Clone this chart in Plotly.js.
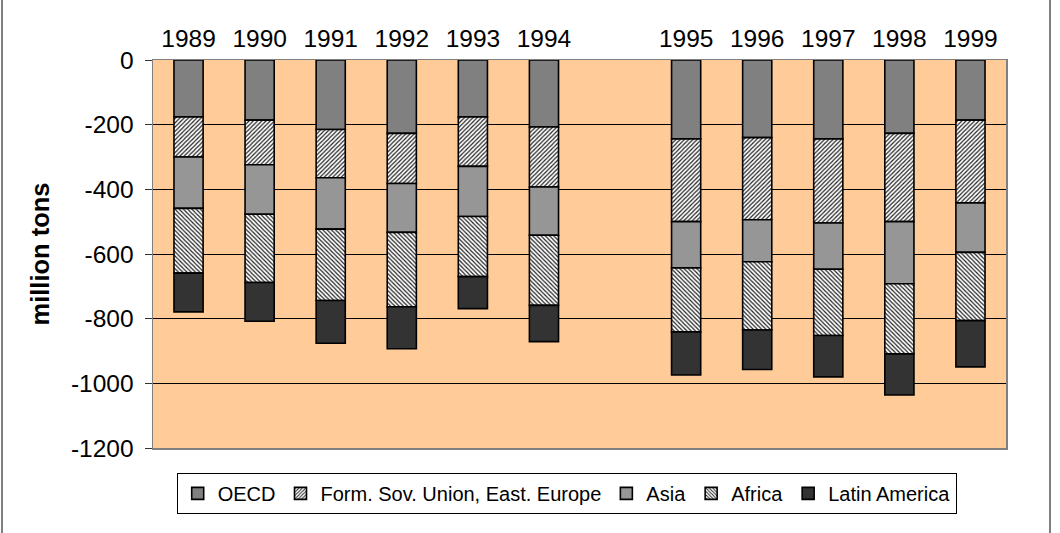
<!DOCTYPE html>
<html>
<head>
<meta charset="utf-8">
<script src="https://cdn.plot.ly/plotly-3.0.1.min.js"></script>
<style>html,body{margin:0;padding:0;background:#fff;}#chart{width:1060px;height:533px;}</style>
</head>
<body>
<div id="chart"></div>
<script>
const years = ['1989','1990','1991','1992','1993','1994',' ','1995','1996','1997','1998','1999'];
const oecd    = [-176, -186, -215, -227, -176, -207, null, -244, -240, -244, -227, -186];
const fsu     = [-124, -138, -149, -155, -153, -186, null, -256, -254, -260, -273, -256];
const asia    = [-159, -153, -159, -151, -155, -149, null, -143, -130, -143, -192, -153];
const africa  = [-200, -211, -221, -230, -186, -217, null, -198, -211, -205, -217, -211];
const latam   = [-120, -120, -132, -130, -99, -112, null, -133, -122, -128, -127, -143];
const yTicks  = [0, -200, -400, -600, -800, -1000, -1200];

const outline = {color: '#000', width: 1.6};
function tr(name, y, color, pattern) {
  const m = {color: color, line: outline};
  if (pattern) m.pattern = pattern;
  return {type: 'bar', name: name, x: years, y: y, marker: m, hoverinfo: 'skip'};
}
const data = [
  tr('OECD', oecd, '#808080'),
  tr('Form. Sov. Union, East. Europe', fsu, '#ffffff', {shape: '/', fgcolor: '#222', bgcolor: '#ffffff', size: 3, solidity: 0.4}),
  tr('Asia', asia, '#969696'),
  tr('Africa', africa, '#ffffff', {shape: '\\', fgcolor: '#222', bgcolor: '#ffffff', size: 3, solidity: 0.4}),
  tr('Latin America', latam, '#333333')
];
const L = 153, R = 1006;
const layout = {
  width: 1060, height: 533,
  margin: {l: 153, r: 54, t: 60, b: 85},
  paper_bgcolor: '#ffffff',
  plot_bgcolor: '#FFCC99',
  barmode: 'relative',
  bargap: 0.59,
  showlegend: true,
  font: {family: 'Arial, Liberation Sans, sans-serif', color: '#000'},
  xaxis: {
    type: 'category', side: 'top', showgrid: false, zeroline: false,
    showline: true, linecolor: '#808080', linewidth: 1.5, mirror: true,
    ticks: '', tickfont: {size: 24.5}, ticklabelstandoff: 2,
    fixedrange: true
  },
  yaxis: {
    range: [-1200, 0], tickvals: yTicks, ticktext: yTicks.map(String),
    showgrid: true, gridcolor: '#000000', gridwidth: 1, zeroline: false,
    showline: true, linecolor: '#808080', linewidth: 1.5, mirror: true,
    ticks: 'outside', ticklen: 7, tickcolor: '#333', tickwidth: 1,
    tickfont: {size: 24.5}, ticklabelstandoff: 6,
    title: {text: '<b>million tons</b>', font: {size: 25.5}, standoff: 14},
    automargin: false, fixedrange: true
  },
  legend: {
    orientation: 'h', x: 0.485, xanchor: 'center', y: -0.064, yanchor: 'top',
    bordercolor: '#000', borderwidth: 1, bgcolor: '#fff',
    font: {size: 20}, itemwidth: 30, traceorder: 'normal'
  },
  shapes: [{
    type: 'rect', xref: 'paper', yref: 'paper',
    x0: (2 - L) / (R - L), x1: (1050 - L) / (R - L),
    y0: -0.3, y1: 1.2,
    line: {color: '#000', width: 1}, fillcolor: 'rgba(0,0,0,0)', layer: 'below'
  }]
};
Plotly.newPlot('chart', data, layout, {staticPlot: true, displayModeBar: false});
</script>
</body>
</html>
